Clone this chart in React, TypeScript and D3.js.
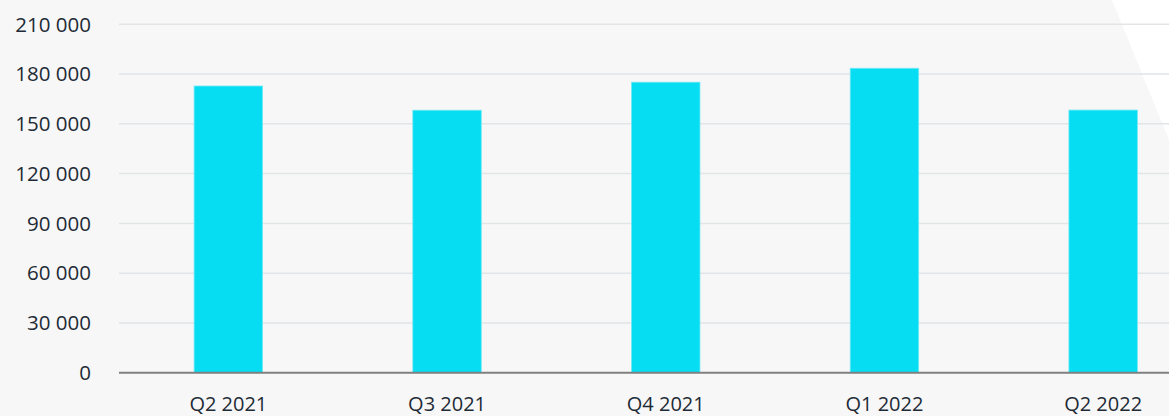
import React, { useEffect, useRef } from 'react';
import * as d3 from 'd3';

const categories = ['Q2 2021', 'Q3 2021', 'Q4 2021', 'Q1 2022', 'Q2 2022'];
const values = [172800, 158200, 175100, 183500, 158300];
const yTicks = [0, 30000, 60000, 90000, 120000, 150000, 180000, 210000];

const W = 1169;
const H = 416;

const App = () => {
  const ref = useRef<SVGSVGElement>(null);

  useEffect(() => {
    const svg = d3.select(ref.current);
    svg.selectAll('*').remove();

    // background with the white corner at top right
    svg.append('rect').attr('width', W).attr('height', H).attr('fill', '#f7f7f7');
    svg
      .append('polygon')
      .attr('points', `1112,0 ${W},0 ${W},140`)
      .attr('fill', '#ffffff');

    const left = 119;
    const x = d3.scaleBand<string>().domain(categories).range([left, 1212.5]).padding(0);
    const y = d3.scaleLinear().domain([0, 210000]).range([372.7, 24.3]);

    const fmt = (v: number) => d3.format(',')(v).replace(/,/g, ' ');
    const font = '"Open Sans", sans-serif';

    // gridlines
    svg
      .append('g')
      .selectAll('line')
      .data(yTicks.filter((t) => t > 0))
      .enter()
      .append('line')
      .attr('x1', left)
      .attr('x2', W)
      .attr('y1', (d) => y(d))
      .attr('y2', (d) => y(d))
      .attr('stroke', '#e1e5e7')
      .attr('stroke-width', 1.5);

    // y labels
    svg
      .append('g')
      .selectAll('text')
      .data(yTicks)
      .enter()
      .append('text')
      .attr('x', 91)
      .attr('y', (d) => y(d) + 7.3)
      .attr('text-anchor', 'end')
      .attr('font-family', font)
      .attr('font-size', 20.5)
      .attr('fill', '#1e2b36')
      .text((d) => fmt(d));

    // bars
    const barW = x.bandwidth() * 0.313;
    svg
      .append('g')
      .selectAll('rect')
      .data(values)
      .enter()
      .append('rect')
      .attr('x', (d, i) => (x(categories[i]) || 0) + x.bandwidth() / 2 - barW / 2)
      .attr('y', (d) => y(d))
      .attr('width', barW)
      .attr('height', (d) => y(0) - y(d))
      .attr('fill', '#06dcf2')
      .attr('stroke', '#6fe9f6')
      .attr('stroke-width', 0.8);

    // x axis line
    svg
      .append('line')
      .attr('x1', left)
      .attr('x2', W)
      .attr('y1', y(0))
      .attr('y2', y(0))
      .attr('stroke', '#808080')
      .attr('stroke-width', 2);

    // x labels
    svg
      .append('g')
      .selectAll('text')
      .data(categories)
      .enter()
      .append('text')
      .attr('x', (d) => (x(d) || 0) + x.bandwidth() / 2)
      .attr('y', 410.5)
      .attr('text-anchor', 'middle')
      .attr('font-family', font)
      .attr('font-size', 20)
      .attr('fill', '#1e2b36')
      .text((d) => d);
  }, []);

  return (
    <svg
      ref={ref}
      width={W}
      height={H}
      style={{ position: 'absolute', left: 0, top: 0, display: 'block' }}
    />
  );
};

export default App;
